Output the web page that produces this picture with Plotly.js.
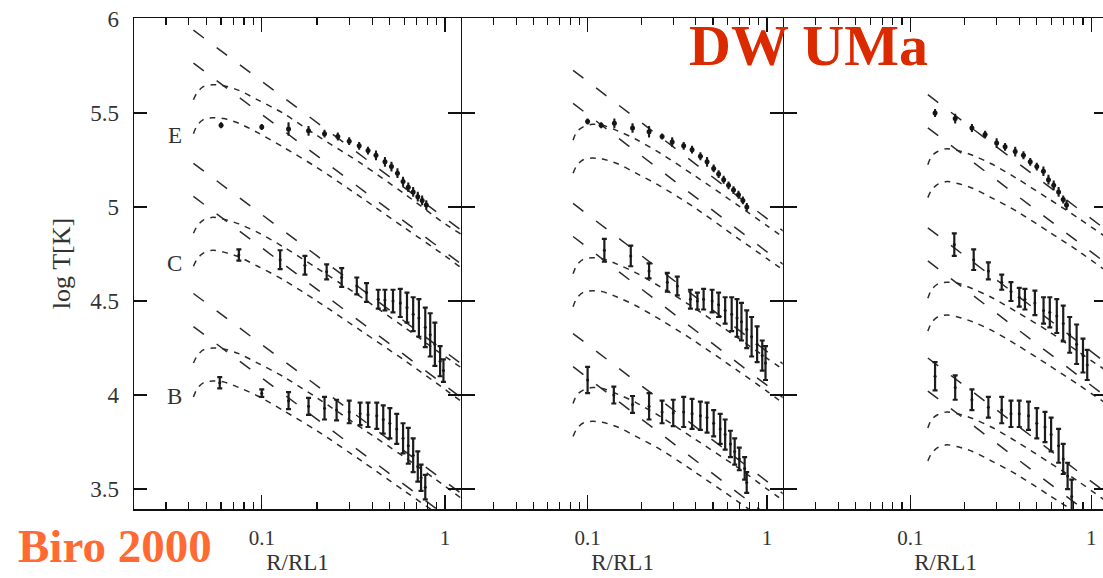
<!DOCTYPE html>
<html>
<head>
<meta charset="utf-8">
<script src="https://cdn.plot.ly/plotly-3.0.1.min.js"></script>
<style>
html, body { margin:0; padding:0; overflow:hidden; background:#fff; }
#chart { width:1110px; height:578px; }
</style>
</head>
<body>
<div id="chart"></div>
<script>
// ---------- tick labels ----------
const xTickVals = [0.1, 1];
const xTickText = ['0.1', '1'];
const xMinorVals = [0.03, 0.04, 0.05, 0.06, 0.07, 0.08, 0.09, 0.2, 0.3, 0.4, 0.5, 0.6, 0.7, 0.8, 0.9];
const yTickVals = [3.5, 4, 4.5, 5, 5.5, 6];
const yTickText = ['3.5', '4', '4.5', '5', '5.5', '6'];
const groupLabels = ['E', 'C', 'B'];
const groupLabelY = [5.378, 4.702, 3.991];

// ---------- panel 1 (left) model lines ----------
const p1LineX = [0.0424, 1.25];
const p1CurveX = [0.0424, 0.0445, 0.048, 0.054, 0.062, 0.075, 0.095, 0.13, 0.2, 0.35, 0.6, 1.0, 1.25];
const p1E_L1 = [5.94, 4.87];
const p1E_L2 = [5.765, 4.69];
const p1E_S1 = [5.57, 5.61, 5.64, 5.65, 5.645, 5.62, 5.57, 5.50, 5.38, 5.23, 5.07, 4.91, 4.85];
const p1E_S2 = [5.39, 5.435, 5.465, 5.475, 5.47, 5.445, 5.395, 5.32, 5.21, 5.05, 4.89, 4.74, 4.67];
const p1C_L1 = [5.232, 4.16];
const p1C_L2 = [5.056, 3.98];
const p1C_S1 = [4.86, 4.90, 4.93, 4.945, 4.935, 4.91, 4.865, 4.79, 4.675, 4.52, 4.36, 4.205, 4.14];
const p1C_S2 = [4.685, 4.725, 4.755, 4.77, 4.76, 4.735, 4.685, 4.615, 4.50, 4.34, 4.185, 4.03, 3.96];
const p1B_L1 = [4.54, 3.47];
const p1B_L2 = [4.364, 3.29];
const p1B_S1 = [4.17, 4.21, 4.24, 4.25, 4.245, 4.22, 4.17, 4.10, 3.985, 3.825, 3.67, 3.515, 3.445];
const p1B_S2 = [3.99, 4.035, 4.065, 4.075, 4.07, 4.04, 3.995, 3.92, 3.81, 3.65, 3.49, 3.34, 3.27];

// ---------- panel 2 (middle) model lines ----------
const p2LineX = [0.083, 1.25];
const p2CurveX = [0.083, 0.087, 0.094, 0.106, 0.121, 0.147, 0.186, 0.255, 0.39, 0.685, 1.0, 1.25];
const p2E_L1 = [5.727, 4.867];
const p2E_L2 = [5.551, 4.69];
const p2E_S1 = [5.355, 5.40, 5.425, 5.44, 5.435, 5.405, 5.36, 5.285, 5.17, 5.01, 4.90, 4.835];
const p2E_S2 = [5.18, 5.22, 5.25, 5.26, 5.255, 5.23, 5.18, 5.11, 5.0, 4.835, 4.725, 4.66];
const p2C_L1 = [5.019, 4.16];
const p2C_L2 = [4.843, 3.98];
const p2C_S1 = [4.645, 4.69, 4.72, 4.73, 4.725, 4.695, 4.65, 4.575, 4.465, 4.305, 4.195, 4.13];
const p2C_S2 = [4.47, 4.515, 4.545, 4.555, 4.55, 4.52, 4.475, 4.40, 4.29, 4.13, 4.02, 3.95];
const p2B_L1 = [4.327, 3.47];
const p2B_L2 = [4.151, 3.29];
const p2B_S1 = [3.955, 4.0, 4.025, 4.04, 4.035, 4.005, 3.96, 3.885, 3.77, 3.615, 3.50, 3.435];
const p2B_S2 = [3.78, 3.82, 3.85, 3.86, 3.855, 3.83, 3.78, 3.71, 3.595, 3.435, 3.325, 3.26];

// ---------- panel 3 (right) model lines ----------
const p3LineX = [0.125, 1.25];
const p3CurveX = [0.125, 0.131, 0.1415, 0.159, 0.183, 0.221, 0.28, 0.383, 0.59, 0.85, 1.25];
const p3E_L1 = [5.597, 4.867];
const p3E_L2 = [5.421, 4.69];
const p3E_S1 = [5.225, 5.27, 5.295, 5.31, 5.30, 5.275, 5.23, 5.155, 5.04, 4.94, 4.83];
const p3E_S2 = [5.05, 5.09, 5.12, 5.135, 5.125, 5.10, 5.05, 4.98, 4.865, 4.765, 4.65];
const p3C_L1 = [4.889, 4.16];
const p3C_L2 = [4.713, 3.98];
const p3C_S1 = [4.515, 4.56, 4.59, 4.60, 4.595, 4.565, 4.52, 4.445, 4.335, 4.23, 4.12];
const p3C_S2 = [4.34, 4.385, 4.415, 4.425, 4.415, 4.39, 4.345, 4.27, 4.155, 4.055, 3.945];
const p3B_L1 = [4.197, 3.47];
const p3B_L2 = [4.021, 3.29];
const p3B_S1 = [3.825, 3.87, 3.895, 3.91, 3.90, 3.875, 3.83, 3.755, 3.64, 3.54, 3.425];
const p3B_S2 = [3.65, 3.69, 3.72, 3.735, 3.725, 3.70, 3.65, 3.58, 3.465, 3.365, 3.25];

// ---------- observed data (with error bars) ----------
const p1E_x = [0.06, 0.1, 0.14, 0.18, 0.22, 0.26, 0.30, 0.34, 0.38, 0.42, 0.47, 0.51, 0.55, 0.59, 0.63, 0.67, 0.71, 0.75, 0.79];
const p1E_y = [5.435, 5.425, 5.415, 5.405, 5.39, 5.375, 5.35, 5.325, 5.30, 5.275, 5.24, 5.215, 5.18, 5.135, 5.105, 5.08, 5.055, 5.035, 5.01];
const p1E_e = [0.01, 0.01, 0.03, 0.02, 0.015, 0.015, 0.015, 0.015, 0.015, 0.02, 0.02, 0.02, 0.02, 0.02, 0.02, 0.02, 0.02, 0.02, 0.02];
const p1C_x = [0.075, 0.126, 0.172, 0.226, 0.273, 0.33, 0.373, 0.432, 0.47, 0.52, 0.57, 0.62, 0.67, 0.72, 0.78, 0.83, 0.88, 0.94, 0.98];
const p1C_y = [4.745, 4.72, 4.69, 4.655, 4.625, 4.58, 4.545, 4.51, 4.505, 4.50, 4.49, 4.465, 4.43, 4.41, 4.36, 4.32, 4.27, 4.18, 4.13];
const p1C_e = [0.03, 0.05, 0.05, 0.04, 0.05, 0.045, 0.05, 0.05, 0.055, 0.06, 0.075, 0.08, 0.09, 0.1, 0.105, 0.115, 0.115, 0.08, 0.06];
const p1B_x = [0.059, 0.1, 0.14, 0.18, 0.22, 0.256, 0.30, 0.344, 0.38, 0.424, 0.46, 0.50, 0.545, 0.59, 0.63, 0.67, 0.71, 0.74, 0.78];
const p1B_y = [4.065, 4.01, 3.97, 3.94, 3.93, 3.92, 3.91, 3.90, 3.895, 3.89, 3.87, 3.85, 3.82, 3.77, 3.73, 3.68, 3.62, 3.56, 3.51];
const p1B_e = [0.03, 0.02, 0.045, 0.045, 0.06, 0.055, 0.06, 0.06, 0.065, 0.07, 0.075, 0.08, 0.08, 0.08, 0.095, 0.09, 0.08, 0.07, 0.065];

const p2E_x = [0.1, 0.119, 0.141, 0.178, 0.22, 0.26, 0.296, 0.343, 0.382, 0.425, 0.463, 0.504, 0.537, 0.573, 0.61, 0.65, 0.693, 0.733, 0.771];
const p2E_y = [5.455, 5.435, 5.445, 5.42, 5.40, 5.375, 5.345, 5.325, 5.305, 5.27, 5.24, 5.205, 5.175, 5.145, 5.115, 5.09, 5.065, 5.035, 5.0];
const p2E_e = [0.01, 0.01, 0.02, 0.02, 0.025, 0.01, 0.02, 0.015, 0.015, 0.015, 0.02, 0.015, 0.015, 0.015, 0.015, 0.015, 0.015, 0.015, 0.015];
const p2C_x = [0.124, 0.174, 0.22, 0.278, 0.316, 0.374, 0.409, 0.443, 0.494, 0.537, 0.584, 0.635, 0.68, 0.72, 0.77, 0.82, 0.88, 0.94, 0.98];
const p2C_y = [4.77, 4.74, 4.66, 4.60, 4.58, 4.51, 4.50, 4.51, 4.50, 4.48, 4.45, 4.43, 4.41, 4.39, 4.35, 4.31, 4.27, 4.21, 4.17];
const p2C_e = [0.06, 0.055, 0.04, 0.05, 0.05, 0.05, 0.045, 0.055, 0.06, 0.065, 0.07, 0.09, 0.1, 0.1, 0.1, 0.105, 0.095, 0.08, 0.09];
const p2B_x = [0.1, 0.14, 0.178, 0.22, 0.26, 0.3, 0.343, 0.382, 0.425, 0.463, 0.504, 0.548, 0.584, 0.625, 0.66, 0.70, 0.75, 0.77];
const p2B_y = [4.08, 4.0, 3.95, 3.94, 3.91, 3.905, 3.91, 3.90, 3.89, 3.88, 3.85, 3.82, 3.79, 3.74, 3.70, 3.66, 3.61, 3.535];
const p2B_e = [0.07, 0.045, 0.045, 0.07, 0.06, 0.07, 0.08, 0.08, 0.075, 0.08, 0.07, 0.08, 0.08, 0.07, 0.07, 0.06, 0.06, 0.055];

const p3E_x = [0.137, 0.177, 0.219, 0.259, 0.30, 0.334, 0.38, 0.422, 0.46, 0.50, 0.544, 0.58, 0.62, 0.66, 0.70, 0.73];
const p3E_y = [5.50, 5.47, 5.42, 5.385, 5.34, 5.32, 5.295, 5.275, 5.24, 5.215, 5.19, 5.145, 5.115, 5.08, 5.04, 5.01];
const p3E_e = [0.015, 0.02, 0.015, 0.015, 0.02, 0.015, 0.02, 0.015, 0.015, 0.015, 0.02, 0.02, 0.02, 0.02, 0.015, 0.02];
const p3C_x = [0.175, 0.224, 0.27, 0.32, 0.36, 0.40, 0.43, 0.488, 0.545, 0.59, 0.645, 0.70, 0.76, 0.83, 0.90, 0.95];
const p3C_y = [4.80, 4.72, 4.66, 4.60, 4.55, 4.52, 4.51, 4.49, 4.45, 4.44, 4.42, 4.38, 4.32, 4.27, 4.21, 4.16];
const p3C_e = [0.06, 0.055, 0.045, 0.04, 0.05, 0.05, 0.055, 0.065, 0.07, 0.08, 0.09, 0.095, 0.095, 0.105, 0.09, 0.08];
const p3B_x = [0.137, 0.177, 0.219, 0.27, 0.32, 0.36, 0.40, 0.45, 0.50, 0.555, 0.60, 0.66, 0.70, 0.74, 0.78];
const p3B_y = [4.10, 4.04, 3.975, 3.935, 3.92, 3.90, 3.90, 3.89, 3.85, 3.83, 3.79, 3.73, 3.66, 3.57, 3.46];
const p3B_e = [0.075, 0.065, 0.055, 0.055, 0.07, 0.07, 0.07, 0.075, 0.08, 0.08, 0.09, 0.09, 0.08, 0.07, 0.09];

// ---------- build traces ----------
const AX = ['', '2', '3'];
const LONG = '13px,16px';
const SHORT = '6px,6px';
const traces = [];
function line(x, y, p, dash, spline) {
  traces.push({x: x, y: y, xaxis: 'x' + AX[p], yaxis: 'y' + AX[p], mode: 'lines',
    line: {color: '#2b2b2b', width: 1.5, dash: dash, shape: spline ? 'spline' : 'linear', smoothing: 0.8},
    hoverinfo: 'skip', showlegend: false});
}
function obs(x, y, e, p, size, cap) {
  traces.push({x: x, y: y, xaxis: 'x' + AX[p], yaxis: 'y' + AX[p], mode: 'markers',
    marker: {size: size, color: '#151515'},
    error_y: {type: 'data', array: e, visible: true, thickness: 2.2, width: cap, color: '#1c1c1c'},
    hoverinfo: 'skip', showlegend: false});
}
const panels = [
  {p: 0, lx: p1LineX, cx: p1CurveX, g: [[p1E_L1, p1E_L2, p1E_S1, p1E_S2], [p1C_L1, p1C_L2, p1C_S1, p1C_S2], [p1B_L1, p1B_L2, p1B_S1, p1B_S2]],
   d: [[p1E_x, p1E_y, p1E_e, 5, 1], [p1C_x, p1C_y, p1C_e, 3, 2.5], [p1B_x, p1B_y, p1B_e, 3, 2.5]]},
  {p: 1, lx: p2LineX, cx: p2CurveX, g: [[p2E_L1, p2E_L2, p2E_S1, p2E_S2], [p2C_L1, p2C_L2, p2C_S1, p2C_S2], [p2B_L1, p2B_L2, p2B_S1, p2B_S2]],
   d: [[p2E_x, p2E_y, p2E_e, 5, 1], [p2C_x, p2C_y, p2C_e, 3, 2.5], [p2B_x, p2B_y, p2B_e, 3, 2.5]]},
  {p: 2, lx: p3LineX, cx: p3CurveX, g: [[p3E_L1, p3E_L2, p3E_S1, p3E_S2], [p3C_L1, p3C_L2, p3C_S1, p3C_S2], [p3B_L1, p3B_L2, p3B_S1, p3B_S2]],
   d: [[p3E_x, p3E_y, p3E_e, 5, 1], [p3C_x, p3C_y, p3C_e, 3, 2.5], [p3B_x, p3B_y, p3B_e, 3, 2.5]]}
];
panels.forEach(function (P) {
  P.g.forEach(function (G) {
    line(P.lx, G[0], P.p, LONG, false);
    line(P.lx, G[1], P.p, LONG, false);
    line(P.cx, G[2], P.p, SHORT, true);
    line(P.cx, G[3], P.p, SHORT, true);
  });
  P.d.forEach(function (D) { obs(D[0], D[1], D[2], P.p, D[3], D[4]); });
});

// ---------- layout ----------
const SERIF = 'Liberation Serif, Times New Roman, serif';
const LW = 1.5;
const GAP = LW / 973;
const domains = [[0, 0.33607], [0.33607 + GAP, 0.66670], [0.66670 + GAP, 1]];
function xAxis(i) {
  return {
    type: 'log', range: [-1.697, 0.087], domain: domains[i], anchor: 'y' + AX[i],
    tickmode: 'array', tickvals: xTickVals, ticktext: xTickText,
    ticks: 'inside', ticklen: 14, tickwidth: 1.3, tickcolor: '#111',
    showline: true, linecolor: '#111', linewidth: LW, mirror: 'ticks',
    showgrid: false, zeroline: false, ticklabelstandoff: 9,
    tickfont: {family: SERIF, size: 21, color: '#333'},
    minor: {tickmode: 'array', tickvals: xMinorVals, ticks: 'inside', ticklen: 7, tickwidth: 1.2, tickcolor: '#111', showgrid: false},
    title: {text: 'R/RL1', font: {family: SERIF, size: 23, color: '#333'}, standoff: 4}
  };
}
function yAxis(i) {
  return {
    range: [3.394, 6.005], domain: [0, 1], anchor: 'x' + AX[i],
    tickmode: 'array', tickvals: yTickVals, ticktext: yTickText,
    ticks: 'inside', ticklen: 13, tickwidth: 1.3, tickcolor: '#111',
    showline: true, linecolor: '#111', linewidth: LW, mirror: 'ticks',
    showgrid: false, zeroline: false, showticklabels: i === 0, ticklabelstandoff: 9,
    tickfont: {family: SERIF, size: 23, color: '#333'},
    title: i === 0 ? {text: 'log T[K]', font: {family: SERIF, size: 26, color: '#333'}, standoff: 12} : {text: ''}
  };
}
const annotations = groupLabels.map(function (t, k) {
  return {text: t, xref: 'x', yref: 'y', x: Math.log10(0.0335), y: groupLabelY[k], showarrow: false,
    font: {family: SERIF, size: 23, color: '#333'}, xanchor: 'center', yanchor: 'middle'};
});
annotations.push({text: '<b>DW UMa</b>', xref: 'paper', yref: 'paper', x: 0.6937, y: 0.943, showarrow: false,
  font: {family: SERIF, size: 58, color: '#dc2a00'}, xanchor: 'center', yanchor: 'middle'});
annotations.push({text: '<b>Biro 2000</b>', xref: 'paper', yref: 'paper', x: -0.020, y: -0.0754, showarrow: false,
  font: {family: SERIF, size: 47, color: '#ff6a33'}, xanchor: 'center', yanchor: 'middle'});

const layout = {
  width: 1110, height: 578,
  margin: {l: 134, r: 3, t: 18, b: 69},
  paper_bgcolor: '#fff', plot_bgcolor: '#fff',
  showlegend: false,
  xaxis: xAxis(0), xaxis2: xAxis(1), xaxis3: xAxis(2),
  yaxis: yAxis(0), yaxis2: yAxis(1), yaxis3: yAxis(2),
  annotations: annotations
};
Plotly.newPlot('chart', traces, layout, {staticPlot: true, displayModeBar: false});
</script>
</body>
</html>
